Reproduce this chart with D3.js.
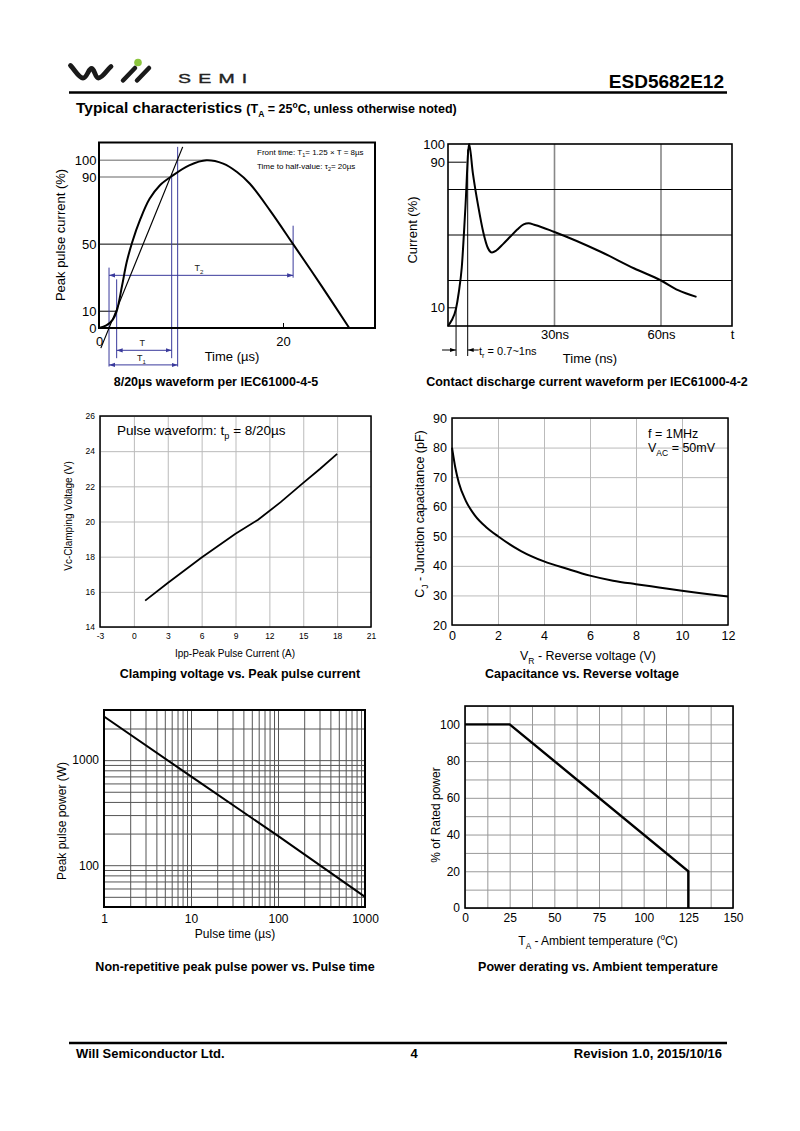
<!DOCTYPE html>
<html lang="en">
<head>
<meta charset="UTF-8">
<title>ESD5682E12 - Typical characteristics</title>
<script src="https://d3js.org/d3.v7.min.js"></script>
<style>
    body{margin:0;background:#fff;}
    svg{display:block;font-family:"Liberation Sans",Arial,sans-serif;}
    .narrow{font-family:"Liberation Sans Narrow","Arial Narrow","Liberation Sans",sans-serif;font-weight:bold;}
    .ctitle{font-weight:bold;font-size:12.5px;text-anchor:middle;}
    .domain{display:none;}
</style>
</head>
<body>
<svg width="800" height="1131"></svg>
<script>
// ---- 8/20us surge waveform (IEC61000-4-5) ----
const surgeTime    = [0, 0.8, 1.5, 1.92, 2.5, 3.0, 3.6, 4.5, 5.5, 6.6, 7.9, 9.8, 11.7, 13.5, 15, 16.4, 18.6, 21.1, 24.2, 27.2]
const surgeCurrent = [0, 1.5, 5, 10, 25, 39, 51, 65, 77, 85, 90.5, 97, 100, 98, 93, 86, 70, 50, 25, 0]
const tangentTime    = [0.2, 9.1]
const tangentCurrent = [-12, 108]
const refLevels = [100, 90, 50, 10]
const refEnds   = [11.7, 7.9, 21.1, 1.92]
const surgeYTicks = [0, 10, 50, 90, 100]
const surgeXTicks = [0, 20]

// ---- ESD contact discharge (IEC61000-4-2) ----
const esdTime    = [0, 1.0, 2.27, 3.0, 3.87, 4.9, 5.95, 7.0, 8.5, 10.0, 11.2, 12.4, 13.6, 15.5, 17.5, 19.5, 21.3, 22.7, 24.5, 29.8, 43.0, 52.5, 60.0, 64.8, 70.0]
const esdCurrent = [0, 3, 9.6, 18, 32, 65, 100, 84, 66, 51, 43, 40.4, 41.5, 45, 49, 53, 55.8, 56.4, 55.5, 51.8, 40.8, 31.6, 25, 19.7, 16]
const esdGridX = [30, 60]
const esdGridY = [25, 50, 75]
const esdYTicks = [10, 90, 100]
const esdXTicks = [30, 60, 80]

// ---- clamping voltage ----
const ippValues = [1, 3, 6, 9, 11, 13, 15, 16.5, 18]
const vcValues  = [15.5, 16.5, 17.95, 19.3, 20.1, 21.1, 22.2, 23.0, 23.85]
const ippTicks = [-3, 0, 3, 6, 9, 12, 15, 18, 21]
const vcTicks  = [14, 16, 18, 20, 22, 24, 26]

// ---- capacitance ----
const vrValues = [0, 0.15, 0.3, 0.6, 1, 1.5, 2, 3, 4, 5, 6, 7, 8, 9, 10, 11, 12]
const cjValues = [80, 73, 68, 62, 57, 53, 50, 45, 41.5, 39, 36.7, 35, 33.8, 32.7, 31.6, 30.6, 29.6]
const vrTicks = [0, 2, 4, 6, 8, 10, 12]
const cjTicks = [20, 30, 40, 50, 60, 70, 80, 90]

// ---- peak pulse power ----
const pulseTime  = [1, 10, 100, 1000]
const pulsePower = [2600, 700, 190, 50]
const pulseXTicks = [1, 10, 100, 1000]
const pulseYTicks = [100, 1000]

// ---- power derating ----
const tempValues  = [0, 25, 125, 125]
const ratedValues = [100, 100, 20, 0]
const tempTicks  = [0, 25, 50, 75, 100, 125, 150]
const tempGrid   = d3.range(0, 151, 12.5)
const ratedTicks = [0, 20, 40, 60, 80, 100]
const ratedGrid  = d3.range(0, 111, 10)

const svg = d3.select("svg")
const blue = "#3a3a9c"

// text with sub/superscript parts: [["T"],["A","sub"]]
function rich(t, parts, size) {
    let shift = 0
    parts.forEach(([s, k]) => {
        let target = k === "sub" ? size * 0.3 : k === "sup" ? -size * 0.42 : 0
        t.append("tspan").attr("dy", target - shift)
            .attr("font-size", k ? size * 0.68 : size).text(s)
        shift = target
    })
    return t
}

function frame(g, x, y, w) {
    g.append("rect")
        .attr("x", x.range()[0]).attr("y", y.range()[1])
        .attr("width", x.range()[1] - x.range()[0])
        .attr("height", y.range()[0] - y.range()[1])
        .attr("fill", "none").attr("stroke", "#000").attr("stroke-width", w)
}

function grid(g, x, y, xs, ys, color) {
    let h = y.range()[0] - y.range()[1], w = x.range()[1] - x.range()[0]
    g.append("g").attr("transform", `translate(0,${y.range()[0]})`)
        .call(d3.axisBottom(x).tickValues(xs).tickSize(-h).tickFormat(""))
        .selectAll("line").attr("stroke", color)
    g.append("g").attr("transform", `translate(${x.range()[0]},0)`)
        .call(d3.axisLeft(y).tickValues(ys).tickSize(-w).tickFormat(""))
        .selectAll("line").attr("stroke", color)
}

function labels(g, x, y, xs, ys, size, padX, padY, fx, fy) {
    let ax = g.append("g").attr("transform", `translate(0,${y.range()[0]})`)
        .call(d3.axisBottom(x).tickValues(xs).tickSize(0).tickPadding(padX).tickFormat(fx || (d => d)))
    let ay = g.append("g").attr("transform", `translate(${x.range()[0]},0)`)
        .call(d3.axisLeft(y).tickValues(ys).tickSize(0).tickPadding(padY).tickFormat(fy || (d => d)))
    ;[ax, ay].forEach(a => {
        a.selectAll("text").attr("font-size", size).attr("font-family", null).attr("fill", "#000")
        a.selectAll("line").remove()
    })
}

function yTitle(g, x, y, parts, size) {
    let t = g.append("text").attr("transform", `translate(${x},${y}) rotate(-90)`)
        .attr("text-anchor", "middle").attr("font-size", size)
    return rich(t, parts, size)
}

function xTitle(g, x, y, parts, size) {
    let t = g.append("text").attr("x", x).attr("y", y)
        .attr("text-anchor", "middle").attr("font-size", size)
    return rich(t, parts, size)
}

// arrowheads
let defs = svg.append("defs")
defs.append("marker").attr("id", "arr").attr("viewBox", "0 0 10 10")
    .attr("refX", 10).attr("refY", 5).attr("markerWidth", 6).attr("markerHeight", 6)
    .attr("orient", "auto-start-reverse")
    .append("path").attr("d", "M0,1.5 L10,5 L0,8.5 z").attr("fill", blue)
defs.append("marker").attr("id", "arrk").attr("viewBox", "0 0 10 10")
    .attr("refX", 10).attr("refY", 5).attr("markerWidth", 6).attr("markerHeight", 6)
    .attr("orient", "auto-start-reverse")
    .append("path").attr("d", "M0,1.5 L10,5 L0,8.5 z").attr("fill", "#000")

// ================= header =================
let head = svg.append("g")
head.append("path")
    .attr("d", "M70.5,65.5 C74.5,69.5 79,78 83,78 C87,78 88.5,68.5 91.5,68.5 C94.5,68.5 95,78 98.5,78 C102.5,78 106.5,70.5 111,66.5")
    .attr("fill", "none").attr("stroke", "#1a1a1a").attr("stroke-width", 4.8).attr("stroke-linecap", "round")
head.append("line").attr("x1", 123).attr("y1", 80.5).attr("x2", 135).attr("y2", 68)
    .attr("stroke", "#1a1a1a").attr("stroke-width", 4.5).attr("stroke-linecap", "round")
head.append("line").attr("x1", 137).attr("y1", 80.5).attr("x2", 149).attr("y2", 68)
    .attr("stroke", "#1a1a1a").attr("stroke-width", 4.5).attr("stroke-linecap", "round")
head.append("circle").attr("cx", 138).attr("cy", 62.5).attr("r", 3.8).attr("fill", "#8cc63e")
head.append("text").attr("transform", "translate(178,82.5) scale(1.5,1)")
    .attr("font-size", 13).attr("letter-spacing", 4.8).attr("fill", "#222")
    .attr("stroke", "#222").attr("stroke-width", 0.35).text("SEMI")
head.append("text").attr("class", "narrow").attr("x", 724).attr("y", 88)
    .attr("text-anchor", "end").attr("font-size", 19).text("ESD5682E12")
head.append("line").attr("x1", 69).attr("x2", 727).attr("y1", 92.5).attr("y2", 92.5)
    .attr("stroke", "#000").attr("stroke-width", 2.5)
let sub = head.append("text").attr("class", "narrow").attr("x", 76).attr("y", 113).attr("font-size", 15.5)
sub.append("tspan").text("Typical characteristics ")
rich(sub.append("tspan").attr("font-size", 12.5), [["(T"], ["A", "sub"], [" = 25"], ["o", "sup"], ["C, unless otherwise noted)"]], 12.5)

// ================= chart 1: 8/20us waveform =================
{
    let g = svg.append("g")
    let x = d3.scaleLinear().domain([0, 30]).range([99, 375])
    let y = d3.scaleLinear().domain([0, 110.6]).range([328, 142.5])
    let pts = surgeTime.map((t, i) => [t, surgeCurrent[i]])

    // reference levels
    g.selectAll(".ref").data(refLevels).enter().append("line")
        .attr("x1", x(0)).attr("x2", (d, i) => x(refEnds[i]))
        .attr("y1", d => y(d)).attr("y2", d => y(d))
        .attr("stroke", d => d >= 90 ? "#999" : "#000")
        .attr("stroke-width", d => d >= 90 ? 1.6 : 1)

    // blue construction lines
    let verts = [[1.09, 36, -23], [1.92, 29, -18], [7.9, 92, -18], [8.55, 108, -23], [21.1, 61, 30]]
    g.selectAll(".vb").data(verts).enter().append("line")
        .attr("x1", d => x(d[0])).attr("x2", d => x(d[0]))
        .attr("y1", d => y(d[1])).attr("y2", d => y(d[2]))
        .attr("stroke", blue).attr("stroke-width", 1)
    let arrows = [[1.09, 21.1, 31.4, "T", "2"], [1.92, 7.9, -13.3, "T", ""], [1.09, 8.55, -22, "T", "1"]]
    g.selectAll(".ab").data(arrows).enter().append("line")
        .attr("x1", d => x(d[0])).attr("x2", d => x(d[1]))
        .attr("y1", d => y(d[2])).attr("y2", d => y(d[2]))
        .attr("stroke", blue).attr("stroke-width", 1)
        .attr("marker-start", "url(#arr)").attr("marker-end", "url(#arr)")
    arrows.forEach(a => {
        let t = g.append("text").attr("x", (x(a[0]) + x(a[1])) / 2 - 2).attr("y", y(a[2]) - 4)
            .attr("text-anchor", "middle").attr("fill", "#222").attr("font-size", 9)
        rich(t, [[a[3]], [a[4], "sub"]], 9)
    })

    frame(g, x, y, 2)

    // the tangent line runs outside the frame
    g.append("path").datum(tangentTime.map((t, i) => [t, tangentCurrent[i]]))
        .attr("d", d3.line().x(d => x(d[0])).y(d => y(d[1])))
        .attr("fill", "none").attr("stroke", "#000").attr("stroke-width", 1.2)
    g.append("path").datum(pts)
        .attr("d", d3.line().x(d => x(d[0])).y(d => y(d[1])).curve(d3.curveCatmullRom))
        .attr("fill", "none").attr("stroke", "#000").attr("stroke-width", 2)

    // small tick at 20us
    g.append("g").attr("transform", `translate(0,${y(0)})`)
        .call(d3.axisBottom(x).tickValues(surgeXTicks).tickSizeInner(-5).tickSizeOuter(0).tickPadding(9))
        .call(s => s.selectAll("text").attr("font-size", 13).attr("font-family", null))
    g.append("g").attr("transform", `translate(${x(0)},0)`)
        .call(d3.axisLeft(y).tickValues(surgeYTicks).tickSize(0).tickPadding(2.5))
        .call(s => s.selectAll("text").attr("font-size", 13).attr("font-family", null))

    let n1 = g.append("text").attr("x", 257).attr("y", 155).attr("font-size", 8)
    rich(n1, [["Front time: T"], ["1", "sub"], ["= 1.25 \u00d7 T = 8\u00b5s"]], 8)
    let n2 = g.append("text").attr("x", 257).attr("y", 169).attr("font-size", 8)
    rich(n2, [["Time to half-value: \u03c4"], ["2", "sub"], ["= 20\u00b5s"]], 8)

    xTitle(g, 232, 361, [["Time (\u00b5s)"]], 13)
    yTitle(g, 65, 235, [["Peak pulse current (%)"]], 13)
    g.append("text").attr("class", "ctitle").attr("x", 216).attr("y", 386).text("8/20\u00b5s waveform per IEC61000-4-5")
}

// ================= chart 2: ESD contact discharge =================
{
    let g = svg.append("g")
    let x = d3.scaleLinear().domain([0, 80]).range([448, 732])
    let y = d3.scaleLinear().domain([0, 100]).range([326, 144])

    g.selectAll(".gx").data(esdGridX).enter().append("line")
        .attr("x1", d => x(d)).attr("x2", d => x(d)).attr("y1", y(0)).attr("y2", y(100))
        .attr("stroke", "#888").attr("stroke-width", 1.6)
    g.selectAll(".gy").data(esdGridY).enter().append("line")
        .attr("x1", x(0)).attr("x2", x(80)).attr("y1", d => y(d)).attr("y2", d => y(d))
        .attr("stroke", "#000").attr("stroke-width", 1)
    // 90% and 10% marks
    g.append("line").attr("x1", x(0)).attr("x2", x(5.2)).attr("y1", y(90)).attr("y2", y(90)).attr("stroke", "#000")
    g.append("line").attr("x1", x(0)).attr("x2", x(2.27)).attr("y1", y(10)).attr("y2", y(10)).attr("stroke", "#000")

    frame(g, x, y, 1.6)
    g.append("path").datum(esdTime.map((t, i) => [t, esdCurrent[i]]))
        .attr("d", d3.line().x(d => x(d[0])).y(d => y(d[1])).curve(d3.curveMonotoneX))
        .attr("fill", "none").attr("stroke", "#000").attr("stroke-width", 2)

    // rise time markers
    g.append("line").attr("x1", x(2.27)).attr("x2", x(2.27)).attr("y1", y(10)).attr("y2", 356).attr("stroke", "#000")
    g.append("line").attr("x1", x(5.55)).attr("x2", x(5.55)).attr("y1", y(97)).attr("y2", 356).attr("stroke", "#000")
    g.append("line").attr("x1", x(2.27) - 14).attr("x2", x(2.27)).attr("y1", 350).attr("y2", 350)
        .attr("stroke", "#000").attr("marker-end", "url(#arrk)")
    g.append("line").attr("x1", x(5.55) + 11).attr("x2", x(5.55)).attr("y1", 350).attr("y2", 350)
        .attr("stroke", "#000").attr("marker-end", "url(#arrk)")
    let tr = g.append("text").attr("x", 479).attr("y", 355).attr("font-size", 11)
    rich(tr, [["t"], ["r", "sub"], [" = 0.7~1ns"]], 11)

    labels(g, x, y, esdXTicks, esdYTicks, 13, 4, 3, d => d === 80 ? "t" : d + "ns")
    xTitle(g, 590, 363, [["Time (ns)"]], 13)
    yTitle(g, 417, 230, [["Current (%)"]], 13)
    g.append("text").attr("class", "ctitle").attr("x", 587).attr("y", 386).text("Contact discharge current waveform per IEC61000-4-2")
}

// ================= chart 3: clamping voltage =================
{
    let g = svg.append("g")
    let x = d3.scaleLinear().domain([-3, 21]).range([100, 371])
    let y = d3.scaleLinear().domain([14, 26]).range([627, 416])
    grid(g, x, y, ippTicks, vcTicks, "#bbb")
    frame(g, x, y, 1.5)
    g.append("path").datum(ippValues.map((v, i) => [v, vcValues[i]]))
        .attr("d", d3.line().x(d => x(d[0])).y(d => y(d[1])))
        .attr("fill", "none").attr("stroke", "#000").attr("stroke-width", 1.8)
    labels(g, x, y, ippTicks, vcTicks, 8.5, 6, 5)
    let note = g.append("text").attr("x", 117).attr("y", 435).attr("font-size", 13.5)
    rich(note, [["Pulse waveform: t"], ["p", "sub"], [" = 8/20\u00b5s"]], 13.5)
    xTitle(g, 235, 657, [["Ipp-Peak Pulse Current (A)"]], 10)
    yTitle(g, 72, 516, [["Vc-Clamping Voltage (V)"]], 10)
    g.append("text").attr("class", "ctitle").attr("x", 240).attr("y", 678).text("Clamping voltage vs. Peak pulse current")
}

// ================= chart 4: capacitance =================
{
    let g = svg.append("g")
    let x = d3.scaleLinear().domain([0, 12]).range([452, 728])
    let y = d3.scaleLinear().domain([20, 90]).range([625, 418])
    grid(g, x, y, vrTicks, cjTicks, "#bbb")
    frame(g, x, y, 1.5)
    g.append("path").datum(vrValues.map((v, i) => [v, cjValues[i]]))
        .attr("d", d3.line().x(d => x(d[0])).y(d => y(d[1])).curve(d3.curveMonotoneX))
        .attr("fill", "none").attr("stroke", "#000").attr("stroke-width", 2)
    labels(g, x, y, vrTicks, cjTicks, 12.5, 6, 5)
    g.append("text").attr("x", 648).attr("y", 438).attr("font-size", 12.5).text("f = 1MHz")
    rich(g.append("text").attr("x", 648).attr("y", 452).attr("font-size", 12.5), [["V"], ["AC", "sub"], [" = 50mV"]], 12.5)
    xTitle(g, 588, 660, [["V"], ["R", "sub"], [" - Reverse voltage (V)"]], 12.5)
    yTitle(g, 424, 514, [["C"], ["J", "sub"], [" - Junction capacitance (pF)"]], 12.5)
    g.append("text").attr("class", "ctitle").attr("x", 582).attr("y", 678).text("Capacitance vs. Reverse voltage")
}

// ================= chart 5: peak pulse power =================
{
    let g = svg.append("g")
    let x = d3.scaleLog().domain([1, 1000]).range([104, 365])
    let y = d3.scaleLog().domain([40, 3000]).range([907, 710])
    grid(g, x, y, x.ticks(), y.ticks(), "#555")
    frame(g, x, y, 2)
    g.append("path").datum(pulseTime.map((t, i) => [t, pulsePower[i]]))
        .attr("d", d3.line().x(d => x(d[0])).y(d => y(d[1])))
        .attr("fill", "none").attr("stroke", "#000").attr("stroke-width", 2)
    labels(g, x, y, pulseXTicks, pulseYTicks, 12, 7.5, 5)
    xTitle(g, 235, 938, [["Pulse time (\u00b5s)"]], 12)
    yTitle(g, 66, 821, [["Peak pulse power (W)"]], 12)
    g.append("text").attr("class", "ctitle").attr("x", 235).attr("y", 971).text("Non-repetitive peak pulse power vs. Pulse time")
}

// ================= chart 6: power derating =================
{
    let g = svg.append("g")
    let x = d3.scaleLinear().domain([0, 150]).range([465, 733])
    let y = d3.scaleLinear().domain([0, 110]).range([908, 706])
    grid(g, x, y, tempGrid, ratedGrid, "#999")
    frame(g, x, y, 1.6)
    g.append("path").datum(tempValues.map((t, i) => [t, ratedValues[i]]))
        .attr("d", d3.line().x(d => x(d[0])).y(d => y(d[1])))
        .attr("fill", "none").attr("stroke", "#000").attr("stroke-width", 2.4)
    labels(g, x, y, tempTicks, ratedTicks, 12, 5.5, 5)
    xTitle(g, 598, 945, [["T"], ["A", "sub"], [" - Ambient temperature ("], ["o", "sup"], ["C)"]], 12)
    yTitle(g, 440, 815, [["% of Rated power"]], 12)
    g.append("text").attr("class", "ctitle").attr("x", 598).attr("y", 971).text("Power derating vs. Ambient temperature")
}

// ================= footer =================
svg.append("line").attr("x1", 69).attr("x2", 727).attr("y1", 1043).attr("y2", 1043)
    .attr("stroke", "#000").attr("stroke-width", 2.5)
svg.append("text").attr("class", "narrow").attr("x", 76).attr("y", 1058).attr("font-size", 13).text("Will Semiconductor Ltd.")
svg.append("text").attr("class", "narrow").attr("x", 414).attr("y", 1058).attr("text-anchor", "middle").attr("font-size", 13).text("4")
svg.append("text").attr("class", "narrow").attr("x", 722).attr("y", 1058).attr("text-anchor", "end").attr("font-size", 13).text("Revision 1.0, 2015/10/16")
</script>
</body>
</html>
